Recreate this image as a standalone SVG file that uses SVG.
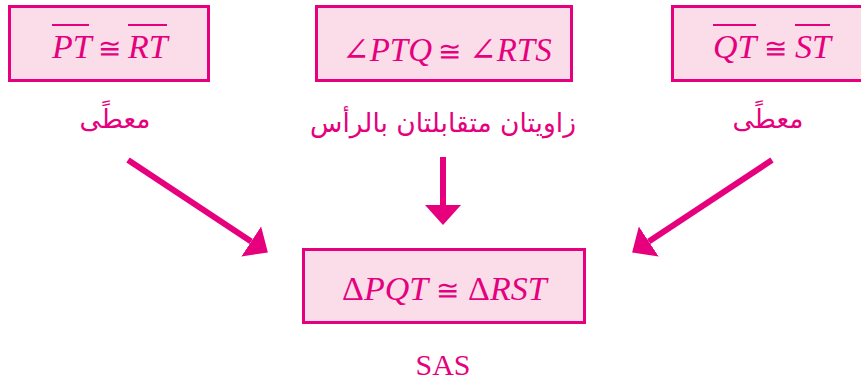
<svg xmlns="http://www.w3.org/2000/svg" width="861" height="387" viewBox="0 0 861 387">
<style>
.box{fill:#FBDDEA;stroke:#E6007E;stroke-width:3}
.m{font-family:"Liberation Serif","DejaVu Serif",serif;font-style:italic;font-size:34px;fill:#E5007D}
.u{font-style:normal}
.c{font-family:"DejaVu Sans",sans-serif;font-style:normal;font-weight:200;font-size:28px}
.ar{font-family:"DejaVu Sans","Noto Sans",sans-serif;font-size:26.5px;fill:#E5007D;text-anchor:middle}
.sas{font-family:"Liberation Serif",serif;font-size:30px;fill:#E5007D;text-anchor:middle}
.ov{stroke:#E5007D;stroke-width:1.8}
.arr{stroke:#E6007E;stroke-width:6;fill:none;marker-end:url(#head)}
</style>
<defs>
<marker id="head" markerUnits="userSpaceOnUse" markerWidth="20" markerHeight="36" refX="0" refY="18" orient="auto" viewBox="0 0 20 36">
<path d="M0,0 L20,18 L0,36 Z" fill="#E6007E"/>
</marker>
</defs>
<rect width="861" height="387" fill="#fff"/>
<g id="n1">
<rect class="box" x="9.5" y="6.5" width="199" height="74"/>
<text class="m" y="58"><tspan x="52">PT</tspan><tspan x="109" text-anchor="middle" class="c">≅</tspan><tspan x="128">RT</tspan></text>
<line class="ov" x1="52" y1="25" x2="89" y2="25"/>
<line class="ov" x1="128" y1="25" x2="167" y2="25"/>
<text class="ar" x="115" y="128">معطًى</text>
</g>
<g id="n2">
<rect class="box" x="316.5" y="6.5" width="255" height="74"/>
<text class="m" y="61" style="font-size:33px"><tspan x="342">∠PTQ</tspan><tspan x="449" text-anchor="middle" class="c">≅</tspan><tspan x="469">∠RTS</tspan></text>
<text class="ar" x="443" y="132">زاويتان متقابلتان بالرأس</text>
</g>
<g id="n3">
<rect class="box" x="672.5" y="6.5" width="200" height="74"/>
<text class="m" y="58"><tspan x="713">QT</tspan><tspan x="775" text-anchor="middle" class="c">≅</tspan><tspan x="795">ST</tspan></text>
<line class="ov" x1="713" y1="25" x2="756" y2="25"/>
<line class="ov" x1="795" y1="25" x2="830" y2="25"/>
<text class="ar" x="768" y="128">معطًى</text>
</g>
<g id="n4">
<rect class="box" x="303.5" y="249.5" width="281" height="73"/>
<text class="m" y="300"><tspan x="342" class="u">Δ</tspan><tspan>PQT</tspan><tspan x="447" text-anchor="middle" class="c">≅</tspan><tspan x="468" class="u">Δ</tspan><tspan>RST</tspan></text>
<text class="sas" x="443" y="375">SAS</text>
</g>
<g id="connectors">
<line class="arr" x1="128" y1="160" x2="251.2" y2="241.5"/>
<line class="arr" x1="772" y1="160" x2="648.8" y2="241.5"/>
<line class="arr" x1="443" y1="157" x2="443" y2="205"/>
</g>
</svg>
